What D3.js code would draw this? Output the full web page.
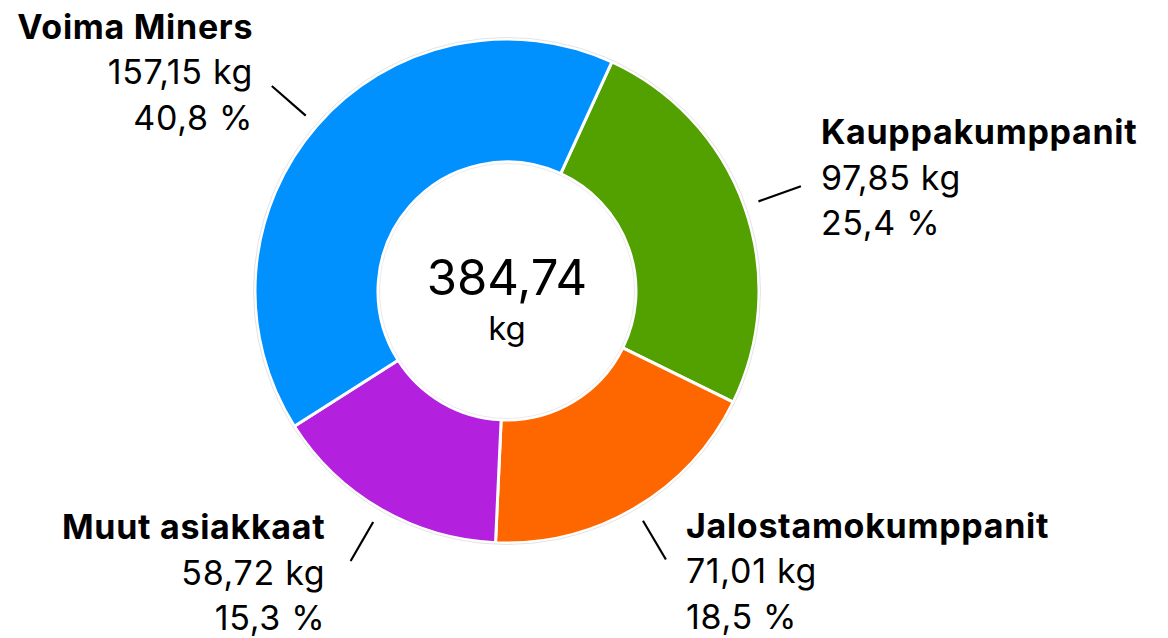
<!DOCTYPE html>
<html>
<head>
<meta charset="utf-8">
<script src="https://cdn.jsdelivr.net/npm/d3@7"></script>
<style>
  html, body { margin: 0; padding: 0; background: #fff; }
  svg { display: block; font-family: Inter, "Noto Sans", sans-serif; }
</style>
</head>
<body>
<svg id="chart" width="1168" height="638"></svg>
<script>
// Chart data
const categories = ['Kauppakumppanit', 'Jalostamokumppanit', 'Muut asiakkaat', 'Voima Miners'];
const values = [97.85, 71.01, 58.72, 157.15];
const colors = ['#52a100', '#fe6700', '#b321df', '#0091ff'];
const unit = 'kg';
const totalValue = 384.74;

const width = 1168, height = 638;
const cx = 507, cy = 291;
const outerR = 252, innerR = 129;
const startAngle = 24.6 * Math.PI / 180;

// Finnish number formatting
const fi = d3.formatLocale({ decimal: ',', thousands: '\u00a0', grouping: [3], currency: ['', ' €'] });
const fmtVal = fi.format('.2f');
const fmtPct = fi.format('.1f');

const svg = d3.select('#chart');
const g = svg.append('g').attr('transform', `translate(${cx},${cy})`);

const pie = d3.pie()
    .sort(null)
    .value(d => d.value)
    .startAngle(startAngle)
    .endAngle(startAngle + 2 * Math.PI);

const data = categories.map((c, i) => ({ name: c, value: values[i], color: colors[i] }));
const arcs = pie(data);

const arc = d3.arc().innerRadius(innerR).outerRadius(outerR);

// Slices with white gaps
g.selectAll('.slice')
    .data(arcs)
    .enter()
    .append('path')
    .attr('class', 'slice')
    .attr('d', arc)
    .attr('fill', d => d.data.color)
    .attr('stroke', '#fff')
    .attr('stroke-width', 3)
    .attr('stroke-linejoin', 'round');

// faint outline round the ring
g.append('circle').attr('r', outerR + 1.5)
    .attr('fill', 'none').attr('stroke', '#dcdcdc').attr('stroke-width', 0.8);
g.append('circle').attr('r', innerR - 1.5)
    .attr('fill', 'none').attr('stroke', '#e4e4e4').attr('stroke-width', 0.8);

// Leader lines
const r1 = 267, r2 = 312;
const mid = d => (d.startAngle + d.endAngle) / 2;
const polar = (a, r) => [Math.sin(a) * r, -Math.cos(a) * r];

g.selectAll('.leader')
    .data(arcs)
    .enter()
    .append('line')
    .attr('class', 'leader')
    .attr('x1', d => polar(mid(d), r1)[0])
    .attr('y1', d => polar(mid(d), r1)[1])
    .attr('x2', d => polar(mid(d), r2)[0])
    .attr('y2', d => polar(mid(d), r2)[1])
    .attr('stroke', '#000')
    .attr('stroke-width', 2.2);

// Labels
const lineH = 45.5;
const labelFont = 34;
const labels = g.selectAll('.label')
    .data(arcs)
    .enter()
    .append('text')
    .attr('class', 'label')
    .attr('font-size', labelFont)
    .attr('letter-spacing', 0.7)
    .attr('fill', '#000')
    .attr('text-anchor', d => Math.sin(mid(d)) > 0 ? 'start' : 'end')
    .attr('transform', d => {
        const a = mid(d);
        const p = polar(a, r2);
        const right = Math.sin(a) > 0;
        const gap = right ? 20 : 21.5 - 4.3 * Math.cos(a);
        const x = p[0] + (right ? gap : -gap);
        const y = p[1] - 36.3 - 16.7 * Math.cos(a);
        return `translate(${x},${y})`;
    });

labels.append('tspan')
    .attr('x', 0).attr('y', 0)
    .attr('font-weight', 700)
    .text(d => d.data.name);
labels.append('tspan')
    .attr('x', 0).attr('y', lineH)
    .text(d => `${fmtVal(d.data.value)} ${unit}`);
labels.append('tspan')
    .attr('x', 0).attr('y', 2 * lineH)
    .text(d => `${fmtPct(d.data.value / totalValue * 100)} %`);

// Centre total
g.append('text')
    .attr('text-anchor', 'middle')
    .attr('y', 4)
    .attr('font-size', 49)
    .text(fmtVal(totalValue));
g.append('text')
    .attr('text-anchor', 'middle')
    .attr('y', 49)
    .attr('font-size', 33)
    .text(unit);
</script>
</body>
</html>
